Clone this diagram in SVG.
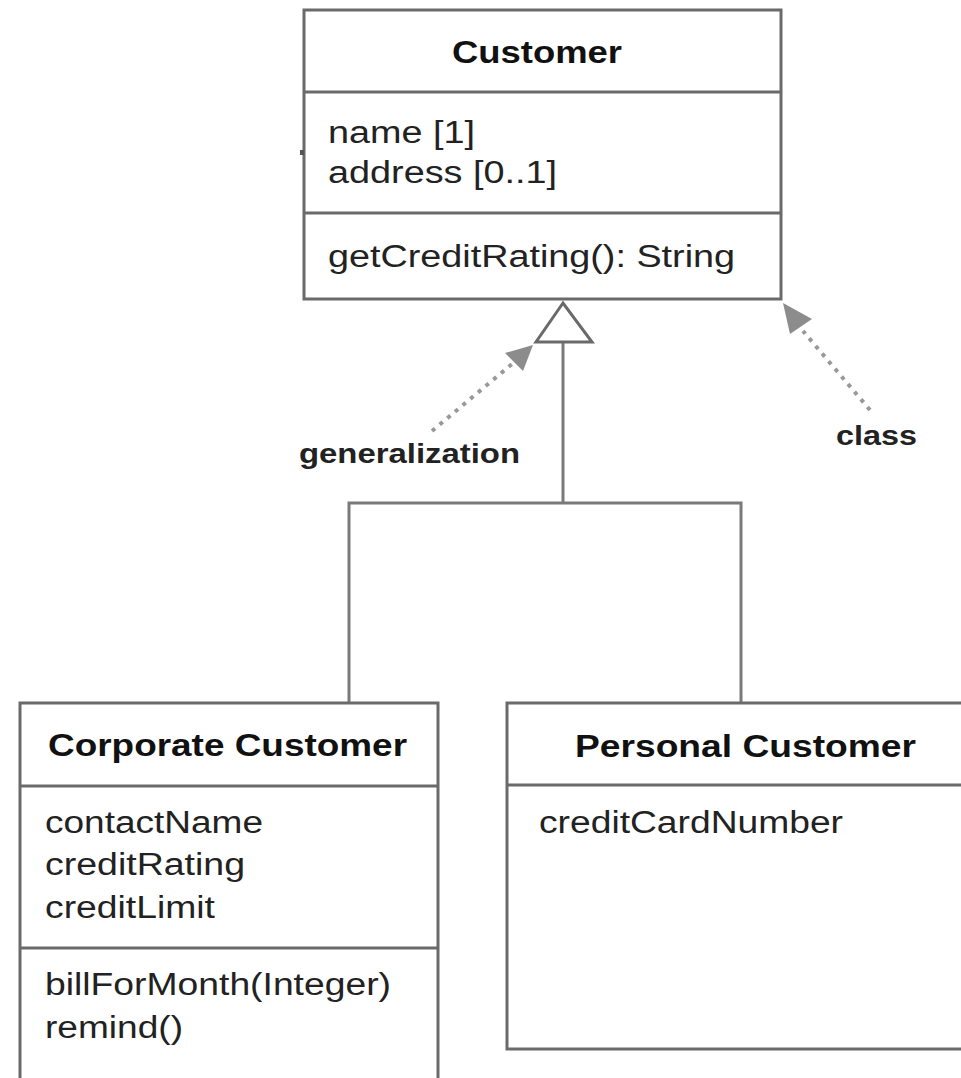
<svg xmlns="http://www.w3.org/2000/svg" width="961" height="1078" viewBox="0 0 961 1078">
<style>
.box{fill:#fff;stroke:#6a6a6a;stroke-width:3}
.div{stroke:#6a6a6a;stroke-width:3}
.t{font-family:"Liberation Sans",Arial,sans-serif;font-size:31px;fill:#222}
.b{font-family:"Liberation Sans",Arial,sans-serif;font-size:32px;font-weight:bold;fill:#111}
.lbl{font-family:"Liberation Sans",Arial,sans-serif;font-size:27px;font-weight:bold;fill:#222}
.con{fill:none;stroke:#7a7a7a;stroke-width:3}
.dot{fill:none;stroke:#999;stroke-width:4;stroke-dasharray:4 6}
.head{fill:#8c8c8c;stroke:none}
</style>
<rect width="961" height="1078" fill="#fff"/>
<g id="connectors">
<polyline class="con" points="349,703 349,503 741,503 741,703"/>
<line class="con" x1="563" y1="503" x2="563" y2="342"/>
<polygon points="563,303 536,342 592,342" fill="#fff" stroke="#6a6a6a" stroke-width="3"/>
<line class="dot" x1="432" y1="431" x2="512" y2="364"/>
<polygon class="head" points="533,345 505,353 523,371"/>
<line class="dot" x1="870" y1="410" x2="803" y2="331"/>
<polygon class="head" points="783,303 812,319 790,334"/>
</g>
<g id="customer">
<rect class="box" x="304" y="10" width="477" height="289"/>
<line class="div" x1="304" y1="92" x2="781" y2="92"/>
<line class="div" x1="304" y1="213" x2="781" y2="213"/>
<text class="b" x="452" y="63" textLength="170" lengthAdjust="spacingAndGlyphs">Customer</text>
<text class="t" x="328" y="143" textLength="147" lengthAdjust="spacingAndGlyphs">name [1]</text>
<text class="t" x="328" y="183" textLength="229" lengthAdjust="spacingAndGlyphs">address [0..1]</text>
<text class="t" x="328" y="267" textLength="407" lengthAdjust="spacingAndGlyphs">getCreditRating(): String</text>
<rect x="300" y="150" width="4" height="5" fill="#555"/>
</g>
<g id="corporate-customer">
<rect class="box" x="20" y="703" width="418" height="390"/>
<line class="div" x1="20" y1="786" x2="438" y2="786"/>
<line class="div" x1="20" y1="948" x2="438" y2="948"/>
<text class="b" x="48" y="756" textLength="359" lengthAdjust="spacingAndGlyphs">Corporate Customer</text>
<text class="t" x="45" y="833" textLength="218" lengthAdjust="spacingAndGlyphs">contactName</text>
<text class="t" x="45" y="875" textLength="200" lengthAdjust="spacingAndGlyphs">creditRating</text>
<text class="t" x="45" y="918" textLength="170" lengthAdjust="spacingAndGlyphs">creditLimit</text>
<text class="t" x="45" y="995" textLength="346" lengthAdjust="spacingAndGlyphs">billForMonth(Integer)</text>
<text class="t" x="45" y="1038" textLength="138" lengthAdjust="spacingAndGlyphs">remind()</text>
</g>
<g id="personal-customer">
<rect class="box" x="507" y="703" width="470" height="346"/>
<line class="div" x1="507" y1="785" x2="977" y2="785"/>
<text class="b" x="575" y="757" textLength="341" lengthAdjust="spacingAndGlyphs">Personal Customer</text>
<text class="t" x="539" y="833" textLength="304" lengthAdjust="spacingAndGlyphs">creditCardNumber</text>
</g>
<g id="label-generalization">
<text class="lbl" x="299" y="463" textLength="221" lengthAdjust="spacingAndGlyphs">generalization</text>
</g>
<g id="label-class">
<text class="lbl" x="836" y="445" textLength="81" lengthAdjust="spacingAndGlyphs">class</text>
</g>
</svg>
